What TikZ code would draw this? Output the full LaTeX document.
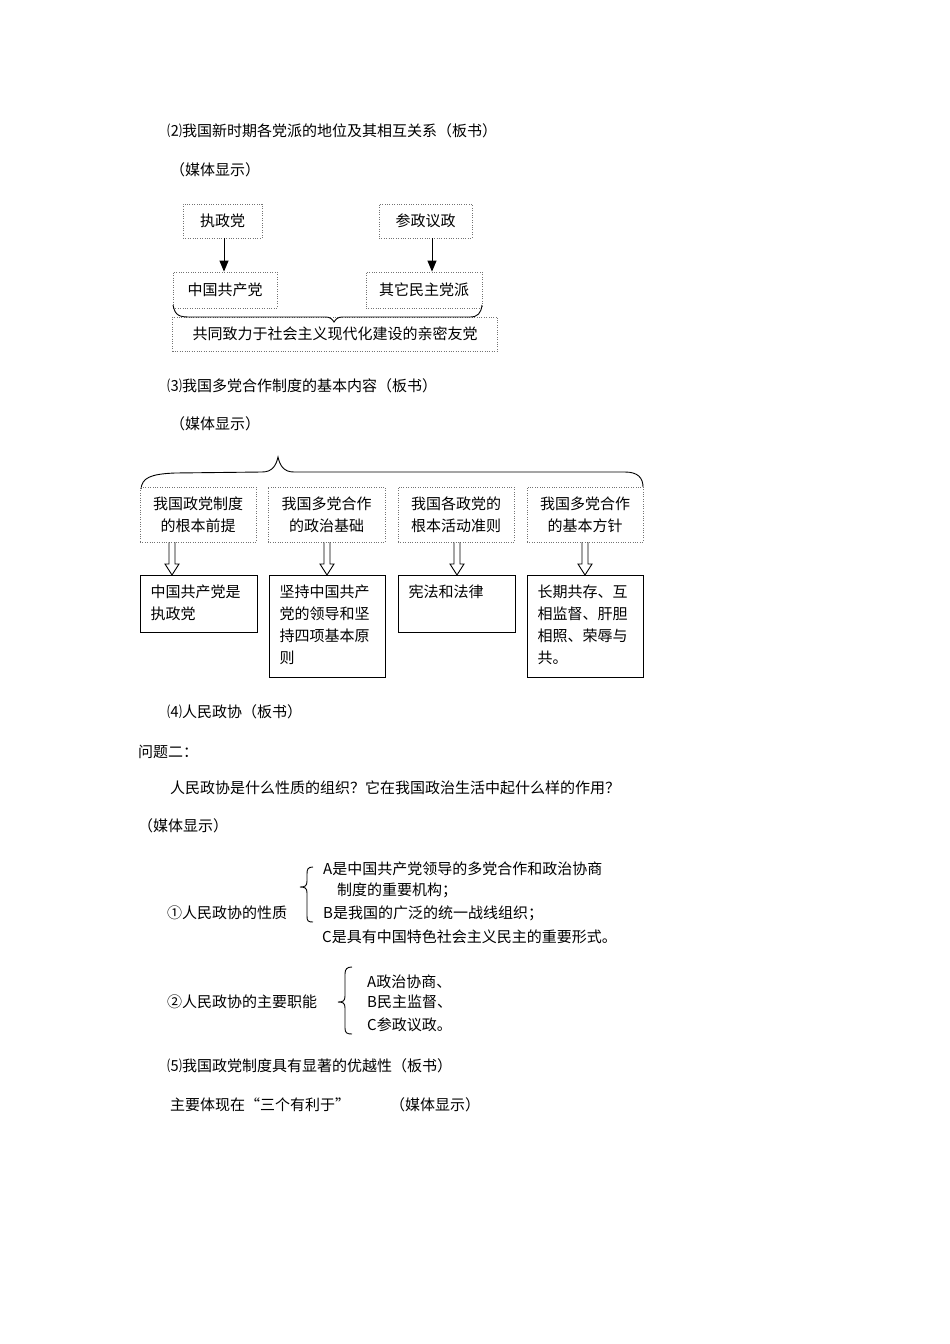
\documentclass[tikz,border=0pt]{standalone}
\usepackage{fontspec}
\setmainfont{Noto Sans CJK SC}
\usetikzlibrary{arrows.meta,calc}
\newcommand\stext[3]{\parbox[c][#1][t]{#2}{\setlength{\leftskip}{10pt}\setlength{\baselineskip}{22pt}\vspace*{9pt}#3}}
\newcommand\hollowarrow[3]{%
  \draw[hollow] let \p1=(#2.south), \p2=(#3.north) in
    ({#1pt-3pt},{\y1}) -- ({#1pt-3pt},{\y2+11pt}) -- ({#1pt-7pt},{\y2+11pt}) -- ({#1pt},{\y2})
    -- ({#1pt+7pt},{\y2+11pt}) -- ({#1pt+3pt},{\y2+11pt}) -- ({#1pt+3pt},{\y1});}
\begin{document}
\begin{tikzpicture}[x=1pt,y=-1pt,font=\fontsize{15}{22}\selectfont,
  txt/.style={anchor=west,inner sep=0},
  dotbox/.style={draw=black!55,line width=0.8pt,dash pattern=on 0.8pt off 1.6pt,inner sep=0,align=center},
  solidbox/.style={draw=black,line width=1pt,inner sep=0,anchor=north west},
  brc/.style={line width=0.9pt},
  arr/.style={line width=1pt,-{Triangle[length=11pt,width=9pt]}},
  hollow/.style={draw,line width=0.9pt}]
\useasboundingbox (0,0) rectangle (950,1344);
\fill[white] (0,0) rectangle (950,1344);

% ---- section 2 ----
\node[txt] (t1) at (167,131) {⑵我国新时期各党派的地位及其相互关系（板书）};
\node[txt] (t2) at (170,170) {（媒体显示）};
\node[dotbox,minimum width=79pt,minimum height=34pt] (n1) at (222.5,221) {执政党};
\node[dotbox,minimum width=93pt,minimum height=34pt] (n2) at (425.5,221) {参政议政};
\node[dotbox,minimum width=104pt,minimum height=36pt] (n3) at (225,290) {中国共产党};
\node[dotbox,minimum width=116pt,minimum height=36pt] (n4) at (424,290) {其它民主党派};
\node[dotbox,minimum width=325pt,minimum height=34pt] (n5) at (335,334) {共同致力于社会主义现代化建设的亲密友党};
\coordinate (c1) at (224,0);
\coordinate (c2) at (432,0);
\draw[arr] (n1.south -| c1) -- (n3.north -| c1);
\draw[arr] (n2.south -| c2) -- (n4.north -| c2);
\draw[brc] (173,305) .. controls (175,316) and (180,317) .. (190,317) -- (326,317)
  .. controls (330,317) and (332,319) .. (334,322) .. controls (336,319) and (338,317) .. (342,317)
  -- (470,317) .. controls (478,317) and (481,313) .. (482,305);

% ---- section 3 ----
\node[txt] (t3) at (167,386) {⑶我国多党合作制度的基本内容（板书）};
\node[txt] (t4) at (170,424) {（媒体显示）};
\draw[brc] (141,489) .. controls (142,478) and (150,474) .. (175,473) -- (262,472)
  .. controls (272,472) and (276,466) .. (278,457) .. controls (280,466) and (284,472) .. (294,472)
  -- (625,472) .. controls (638,472) and (643,478) .. (643,487);
\node[dotbox,minimum width=116pt,minimum height=55pt] (d1) at (198,514.5) {我国政党制度\\的根本前提};
\node[dotbox,minimum width=117pt,minimum height=55pt] (d2) at (326.5,514.5) {我国多党合作\\的政治基础};
\node[dotbox,minimum width=116pt,minimum height=55pt] (d3) at (456,514.5) {我国各政党的\\根本活动准则};
\node[dotbox,minimum width=116pt,minimum height=55pt] (d4) at (585,514.5) {我国多党合作\\的基本方针};
\node[solidbox] (s1) at (140,575) {\stext{57pt}{117pt}{中国共产党是\\执政党}};
\node[solidbox] (s2) at (269,575) {\stext{102pt}{116pt}{坚持中国共产\\党的领导和坚\\持四项基本原\\则}};
\node[solidbox] (s3) at (398,575) {\stext{57pt}{117pt}{宪法和法律}};
\node[solidbox] (s4) at (527,575) {\stext{102pt}{116pt}{长期共存、互\\相监督、肝胆\\相照、荣辱与\\共。}};
\hollowarrow{172}{d1}{s1}
\hollowarrow{327}{d2}{s2}
\hollowarrow{457}{d3}{s3}
\hollowarrow{585}{d4}{s4}

% ---- section 4 ----
\node[txt] (t5) at (167,712) {⑷人民政协（板书）};
\node[txt] (t6) at (138,752) {问题二：};
\node[txt] (t7) at (170,788) {人民政协是什么性质的组织？它在我国政治生活中起什么样的作用？};
\node[txt] (t8) at (138,826) {（媒体显示）};

\node[txt] (l1) at (167,913) {①人民政协的性质};
\draw[brc] (313,867) .. controls (308,867) and (307,869) .. (307,874) -- (307,881)
  .. controls (307,886) and (305,887) .. (300,887) .. controls (305,887) and (307,888) .. (307,893)
  -- (307,916) .. controls (307,921) and (308,922) .. (313,922);
\node[txt] (l2) at (323,869) {A是中国共产党领导的多党合作和政治协商};
\node[txt] (l3) at (337,890) {制度的重要机构；};
\node[txt] (l4) at (323,913) {B是我国的广泛的统一战线组织；};
\node[txt] (l5) at (322,937) {C是具有中国特色社会主义民主的重要形式。};

\node[txt] (l6) at (167,1002) {②人民政协的主要职能};
\draw[brc] (352,967) .. controls (347,967) and (345,969) .. (345,974) -- (345,996)
  .. controls (345,1001) and (343,1002) .. (338,1002) .. controls (343,1002) and (345,1003) .. (345,1008)
  -- (345,1028) .. controls (345,1033) and (347,1034) .. (352,1034);
\node[txt] (l7) at (367,982) {A政治协商、};
\node[txt] (l8) at (367,1002) {B民主监督、};
\node[txt] (l9) at (367,1025) {C参政议政。};

% ---- section 5 ----
\node[txt] (t9) at (167,1066) {⑸我国政党制度具有显著的优越性（板书）};
\node[txt] (t10) at (170,1105) {主要体现在“三个有利于”};
\node[txt] (t11) at (390,1105) {（媒体显示）};
\end{tikzpicture}
\end{document}
